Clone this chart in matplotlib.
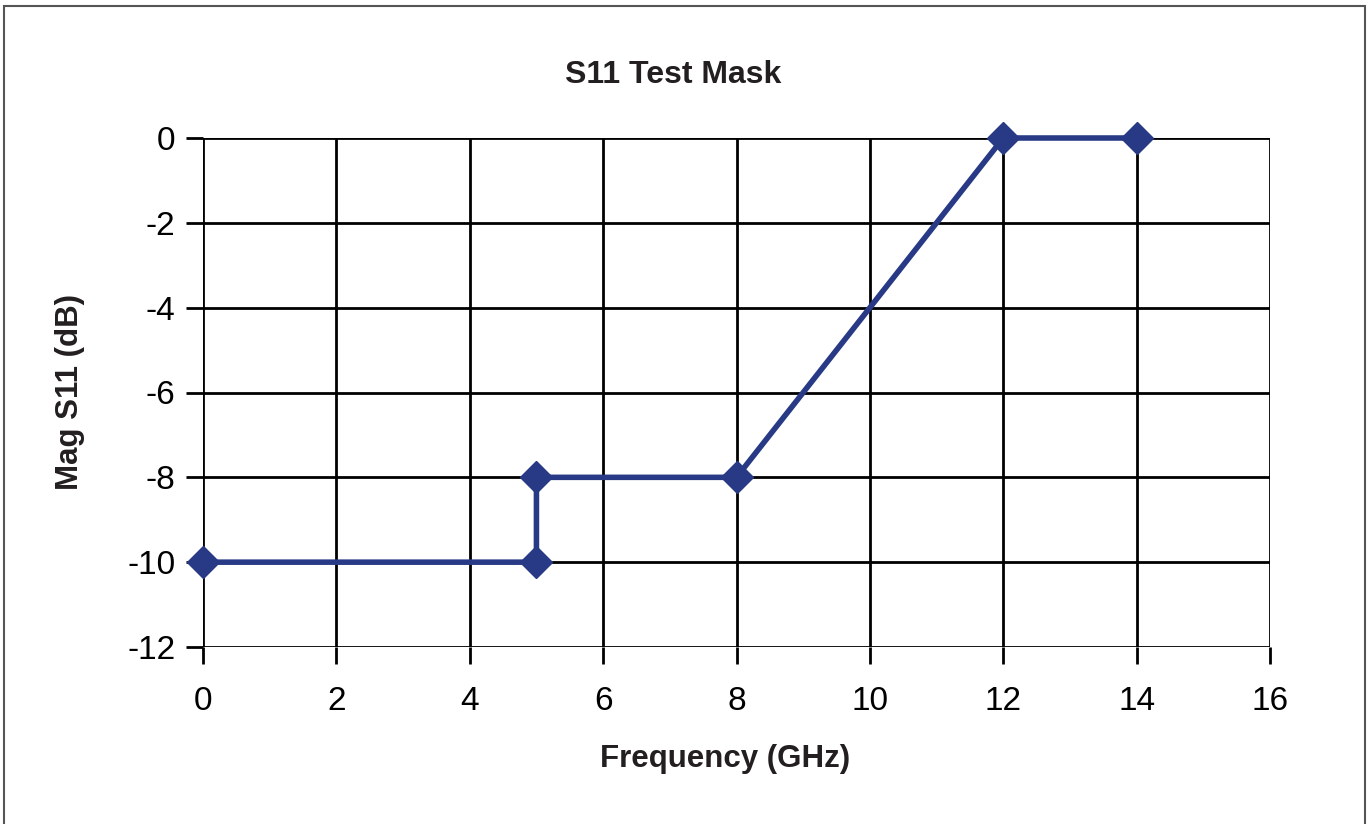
import matplotlib
matplotlib.use("Agg")
import matplotlib.pyplot as plt
from matplotlib.patches import Rectangle

# mask points (frequency in GHz, magnitude in dB)
freq = [0, 5, 5, 8, 12, 14]
mag = [-10, -10, -8, -8, 0, 0]
x_ticks = [0, 2, 4, 6, 8, 10, 12, 14, 16]
y_ticks = [0, -2, -4, -6, -8, -10, -12]

plt.rcParams['font.family'] = ['Liberation Sans', 'DejaVu Sans']
plt.rcParams['axes.unicode_minus'] = False
txt = '#231f20'
blue = '#283a85'

fig = plt.figure(figsize=(13.68, 8.24), dpi=100)
ax = fig.add_axes([203/1368, 1-647/824, (1270-203)/1368, (647-138)/824])

ax.plot(freq, mag, color=blue, lw=4.0, marker='D', markersize=16, zorder=3, clip_on=False)

ax.set_xlim(0, 16)
ax.set_ylim(-12, 0)
ax.set_xticks(x_ticks)
ax.set_yticks(y_ticks)
ax.grid(True, color='black', lw=2.0)
for s in ['top', 'right', 'bottom', 'left']:
    ax.spines[s].set_visible(False)
ax.tick_params(length=12, width=2.0, color='black', labelsize=24, labelcolor='black', pad=8)
ax.tick_params(axis='x', pad=16)

# title sits a bit left of the plot centre in the original
fig.text(673/1368, 1-75/824, 'S11 Test Mask', fontsize=23, fontweight='bold', color=txt,
         ha='center', va='center')
ax.set_xlabel('Frequency (GHz)', fontsize=22.5, fontweight='bold', color=txt, labelpad=20)
ax.xaxis.set_label_coords((725-203)/(1270-203), -0.19)
ax.set_ylabel('Mag S11 (dB)', fontsize=22.5, fontweight='bold', color=txt, labelpad=30)

# outer frame of the figure
fig.patches.append(Rectangle((4/1368, -0.1), 1361/1368, 1.1 - 6/824, transform=fig.transFigure,
                             fill=False, edgecolor='#555555', lw=1.5))

fig.savefig('out.png', dpi=100)
